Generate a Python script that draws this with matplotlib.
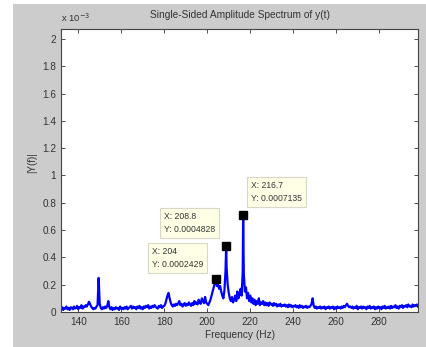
import numpy as np
import matplotlib
matplotlib.use('Agg')
import matplotlib.pyplot as plt
from matplotlib.patches import Rectangle

plt.rcParams['font.family'] = ['Liberation Sans', 'DejaVu Sans']

# spectrum amplitude (units of 1e-3), every 0.5 Hz from 132 Hz
freq_start = 132.0
freq_step = 0.5
amp = [
    0.02, 0.035, 0.015, 0.03, 0.025, 0.04, 0.02, 0.03, 0.015, 0.035,     # 132
    0.03, 0.02, 0.04, 0.025, 0.03, 0.045, 0.02, 0.035, 0.03, 0.05,       # 137
    0.025, 0.04, 0.035, 0.05, 0.04, 0.055, 0.075, 0.06, 0.04, 0.03,      # 142
    0.02, 0.03, 0.025, 0.04, 0.05, 0.25, 0.06, 0.03, 0.02, 0.035,        # 147
    0.025, 0.04, 0.03, 0.045, 0.08, 0.035, 0.02, 0.035, 0.015, 0.03,     # 152
    0.02, 0.035, 0.025, 0.03, 0.015, 0.04, 0.025, 0.03, 0.02, 0.035,     # 157
    0.025, 0.04, 0.02, 0.03, 0.035, 0.045, 0.025, 0.04, 0.03, 0.035,     # 162
    0.02, 0.04, 0.03, 0.045, 0.025, 0.035, 0.02, 0.04, 0.03, 0.045,      # 167
    0.035, 0.05, 0.025, 0.04, 0.03, 0.045, 0.035, 0.05, 0.04, 0.03,      # 172
    0.025, 0.045, 0.035, 0.05, 0.03, 0.04, 0.045, 0.06, 0.09, 0.12,      # 177
    0.14, 0.1, 0.07, 0.05, 0.04, 0.055, 0.045, 0.06, 0.05, 0.065,        # 182
    0.08, 0.05, 0.06, 0.04, 0.055, 0.065, 0.045, 0.06, 0.05, 0.07,       # 187
    0.055, 0.045, 0.065, 0.05, 0.08, 0.06, 0.07, 0.055, 0.09, 0.07,      # 192
    0.06, 0.1, 0.08, 0.065, 0.11, 0.07, 0.06, 0.05, 0.07, 0.09,          # 197
    0.12, 0.15, 0.18, 0.21, 0.22, 0.19, 0.2, 0.17, 0.19, 0.15,           # 202
    0.12, 0.1, 0.16, 0.3, 0.33, 0.2, 0.14, 0.1, 0.08, 0.11,              # 207
    0.07, 0.09, 0.12, 0.08, 0.15, 0.1, 0.13, 0.17, 0.12, 0.3,            # 212
    0.28, 0.15, 0.18, 0.1, 0.14, 0.08, 0.12, 0.07, 0.1, 0.06,            # 217
    0.09, 0.05, 0.08, 0.06, 0.1, 0.05, 0.07, 0.06, 0.08, 0.05,           # 222
    0.07, 0.05, 0.065, 0.045, 0.07, 0.055, 0.06, 0.045, 0.065, 0.05,     # 227
    0.06, 0.04, 0.055, 0.045, 0.06, 0.04, 0.05, 0.045, 0.055, 0.04,      # 232
    0.05, 0.035, 0.055, 0.04, 0.05, 0.035, 0.045, 0.04, 0.05, 0.035,     # 237
    0.045, 0.03, 0.05, 0.035, 0.045, 0.03, 0.04, 0.035, 0.045, 0.03,     # 242
    0.04, 0.035, 0.045, 0.06, 0.1, 0.045, 0.03, 0.04, 0.025, 0.035,      # 247
    0.03, 0.04, 0.025, 0.035, 0.03, 0.04, 0.02, 0.035, 0.03, 0.04,       # 252
    0.025, 0.035, 0.03, 0.04, 0.02, 0.035, 0.025, 0.04, 0.03, 0.035,     # 257
    0.025, 0.04, 0.03, 0.045, 0.035, 0.05, 0.06, 0.045, 0.035, 0.04,     # 262
    0.03, 0.04, 0.025, 0.035, 0.03, 0.045, 0.02, 0.035, 0.03, 0.04,      # 267
    0.025, 0.04, 0.03, 0.035, 0.02, 0.04, 0.03, 0.045, 0.025, 0.035,     # 272
    0.03, 0.04, 0.02, 0.035, 0.025, 0.04, 0.03, 0.035, 0.02, 0.04,       # 277
    0.03, 0.045, 0.025, 0.035, 0.03, 0.04, 0.025, 0.045, 0.03, 0.04,     # 282
    0.035, 0.05, 0.03, 0.04, 0.025, 0.045, 0.035, 0.05, 0.03, 0.045,     # 287
    0.04, 0.05, 0.035, 0.055, 0.04, 0.045, 0.035, 0.055, 0.04, 0.05,     # 292
    0.045, 0.055, 0.04,                                                  # 297
]

# data tips
peak_freq = [204.0, 208.8, 216.7]
peak_amp = [0.0002429, 0.0004828, 0.0007135]
tip_pos = [(174.3, 0.476), (179.9, 0.733), (220.3, 0.960)]

yticks = [0, 0.2, 0.4, 0.6, 0.8, 1, 1.2, 1.4, 1.6, 1.8, 2]
xticks = [140, 160, 180, 200, 220, 240, 260, 280]

freq = freq_start + freq_step * np.arange(len(amp))
f_all = np.concatenate([freq, peak_freq])
a_all = np.concatenate([amp, np.array(peak_amp) * 1e3])
order = np.argsort(f_all, kind='stable')

txt = '#333333'
fig = plt.figure(figsize=(4.27, 3.47), dpi=100)
fig.patch.set_facecolor('white')
fig.patches.append(Rectangle((13 / 427, 0), 1, 343 / 347, transform=fig.transFigure,
                             facecolor='#cccccc', edgecolor='none', zorder=-10))

ax = fig.add_axes([61 / 427, 35 / 347, 357 / 427, 283 / 347])
ax.plot(f_all[order], a_all[order], color='#0000ff', lw=1.6)
ax.plot(peak_freq, np.array(peak_amp) * 1e3, 's', color='black', ms=5.5, zorder=5)

for (tx, ty), f, a in zip(tip_pos, peak_freq, peak_amp):
    ax.text(tx, ty, f'X: {f:g}\nY: {a:.7f}', fontsize=6.2, color=txt, ha='left', va='top',
            linespacing=1.6, zorder=6,
            bbox=dict(boxstyle='square,pad=0.45', facecolor='#ffffe6', edgecolor='#d8d8c8', lw=0.8))

ax.set_xlim(132, 298)
ax.set_ylim(0, 2.073)
ax.set_xticks(xticks)
ax.set_yticks(yticks)
ax.set_yticklabels([f'{v:g}' for v in yticks])
ax.tick_params(direction='in', top=True, right=True, length=3, width=0.6,
               labelsize=7.2, colors=txt, pad=3.5)
for s in ax.spines.values():
    s.set_color('#444444')
    s.set_linewidth(0.8)

fig.text(240 / 427, 1 - 15 / 347, 'Single-Sided Amplitude Spectrum of y(t)', ha='center',
         va='center', fontsize=7.3, color=txt)
fig.text(61 / 427, 1 - 18 / 347, r'x 10$^{-3}$', ha='left', va='center', fontsize=6.8, color=txt)
fig.text(32 / 427, 1 - 163 / 347, '|Y(f)|', rotation=90, ha='center', va='center',
         fontsize=7, color=txt)
fig.text(240 / 427, 12 / 347, 'Frequency (Hz)', ha='center', va='center', fontsize=7.3, color=txt)

fig.savefig('out.png', dpi=100, facecolor=fig.get_facecolor())
